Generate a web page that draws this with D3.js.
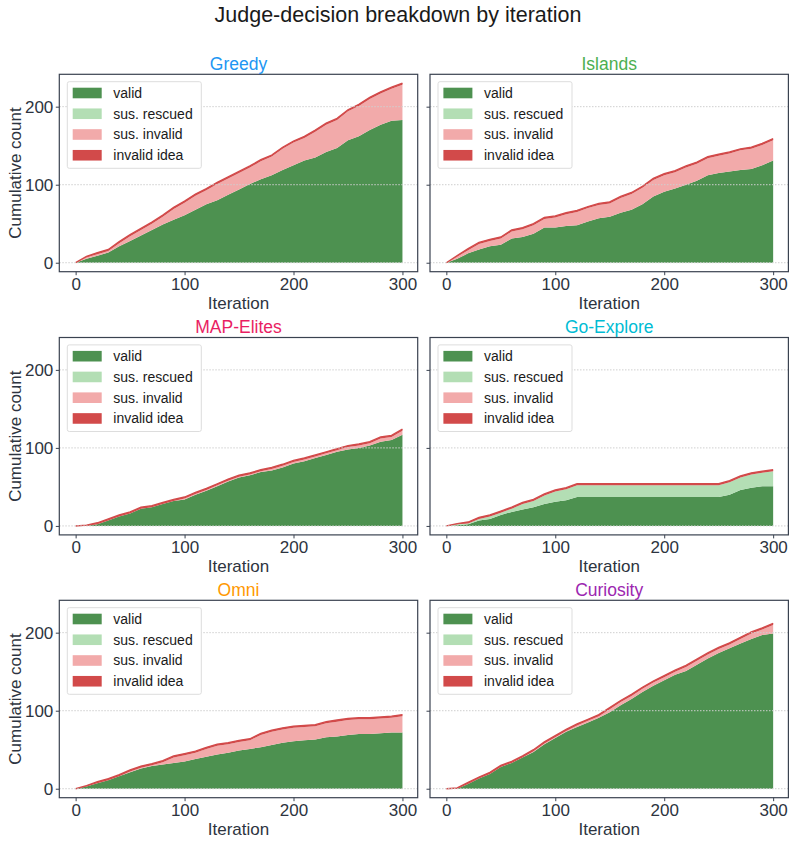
<!DOCTYPE html>
<html lang="en">
<head>
<meta charset="UTF-8">
<script src="https://d3js.org/d3.v7.min.js"></script>
<title>Judge-decision breakdown by iteration</title>
<style>
  body { margin: 0; background: #fff; }
  svg { font-family: 'Liberation Sans', Arial, sans-serif; }
  .tick text { fill: #2d3440; font-size: 17px; }
  .tick line { stroke: #3a4250; stroke-width: 1; }
  .domain { display: none; }
  .grid line { stroke: #cfcfcf; stroke-width: 1; stroke-dasharray: 1.5,1.5; }
  text.axlabel { fill: #2d3440; font-size: 17px; }
  text.legend { fill: #1a1a1a; font-size: 14px; }
</style>
</head>
<body>
<svg width="796" height="841"></svg>
<script>
const width = 796, height = 841;

const iterations = [0,10,20,30,40,50,60,70,80,90,100,110,120,130,140,150,160,170,180,190,200,210,220,230,240,250,260,270,280,290,300];
const keys = ["valid", "rescued", "susInvalid", "invalid"];
const legendLabels = ["valid", "sus. rescued", "sus. invalid", "invalid idea"];
const colors = ["#4d9150", "#b3deb4", "#f2aaaa", "#d24a4a"];
const yTicks = [0, 100, 200];
const xTicks = [0, 100, 200, 300];

// cumulative counts per iteration
const greedyValid   = [0,5,9,13,21,28,35,42,49,55,61,68,75,80,87,94,101,107,112,119,125,131,135,142,147,157,162,170,177,182,183];
const greedyRescued = [0,0,0,0,0,0,0,0,0,0,0,0,0,0,0,0,0,0,0,0,0,0,0,0,0,0,0,0,0,0,0];
const greedySusInv  = [0,2,2,2,4,6,7,8,10,14,16,18,18,21,21,21,21,23,24,27,29,29,33,35,36,37,39,40,40,41,45];
const greedyInvalid = [0,1,2,2,2,2,2,2,2,2,2,2,2,2,2,2,2,2,2,2,2,2,2,2,2,2,2,2,2,2,2];

const islandsValid   = [0,5,12,17,21,23,31,33,37,45,45,47,48,53,57,59,64,68,75,85,91,95,100,105,112,115,117,119,120,125,131];
const islandsRescued = [0,0,0,0,0,0,0,0,0,0,0,0,0,0,0,0,0,0,0,0,0,0,0,0,0,0,0,0,0,0,0];
const islandsSusInv  = [0,3,4,7,7,8,9,10,11,11,13,15,17,17,17,17,19,20,21,21,21,21,22,22,22,22,23,25,26,26,26];
const islandsInvalid = [0,1,2,2,2,2,2,2,2,2,2,2,2,2,2,2,2,2,2,2,2,2,2,2,2,2,2,2,2,2,2];

const mapValid   = [0,0,2,7,12,16,22,24,28,32,34,40,45,51,57,62,65,69,71,75,80,83,87,91,95,98,100,103,108,110,117];
const mapRescued = [0,0,0,0,0,0,0,0,0,0,0,0,0,0,0,0,0,0,0,0,0,0,0,0,0,0,0,0,0,0,0];
const mapSusInv  = [0,0,0,0,0,0,0,0,0,0,1,1,1,1,1,1,1,1,2,2,2,2,2,2,2,3,3,3,4,4,5];
const mapInvalid = [0,1,2,2,2,2,2,2,2,2,2,2,2,2,2,2,2,2,2,2,2,2,2,2,2,2,2,2,2,2,2];

const goValid   = [0,1,2,7,9,14,18,21,24,28,31,33,37,37,37,37,37,37,37,37,37,37,37,37,37,37,40,46,49,51,51];
const goRescued = [0,1,1,2,3,3,4,7,8,11,13,14,15,15,15,15,15,15,15,15,15,15,15,15,15,15,16,16,17,17,19];
const goSusInv  = [0,0,0,0,0,0,0,0,0,0,0,0,0,0,0,0,0,0,0,0,0,0,0,0,0,0,0,0,0,0,0];
const goInvalid = [0,1,2,2,2,2,2,2,2,2,2,2,2,2,2,2,2,2,2,2,2,2,2,2,2,2,2,2,2,2,2];

const omniValid   = [0,3,7,11,16,21,26,29,31,33,35,38,41,44,46,49,51,53,56,59,61,62,63,66,67,69,70,70,71,72,72];
const omniRescued = [0,0,0,0,0,0,0,0,0,0,0,0,0,0,0,0,0,0,0,0,0,0,0,0,0,0,0,0,0,0,0];
const omniSusInv  = [0,0,0,0,0,1,1,1,3,7,8,8,10,11,11,11,11,16,17,17,17,17,17,18,19,19,19,19,19,19,21];
const omniInvalid = [0,1,2,2,2,2,2,2,2,2,2,2,2,2,2,2,2,2,2,2,2,2,2,2,2,2,2,2,2,2,2];

const curValid   = [0,0,6,13,19,28,33,40,47,57,65,73,79,85,91,98,107,115,124,132,139,146,151,159,167,174,180,186,192,197,199];
const curRescued = [0,0,0,0,0,0,0,0,0,0,0,0,0,0,0,0,0,0,0,0,0,0,0,0,0,0,0,0,0,0,0];
const curSusInv  = [0,0,0,0,0,0,0,0,1,1,1,1,2,2,2,4,4,4,4,4,4,4,5,5,5,5,5,6,7,7,11];
const curInvalid = [0,1,2,2,2,2,2,2,2,2,2,2,2,2,2,2,2,2,2,2,2,2,2,2,2,2,2,2,2,2,2];

const panels = [
  {name: "Greedy",     color: "#2196f3", s: [greedyValid, greedyRescued, greedySusInv, greedyInvalid]},
  {name: "Islands",    color: "#4caf50", s: [islandsValid, islandsRescued, islandsSusInv, islandsInvalid]},
  {name: "MAP-Elites", color: "#e91e63", s: [mapValid, mapRescued, mapSusInv, mapInvalid]},
  {name: "Go-Explore", color: "#00bcd4", s: [goValid, goRescued, goSusInv, goInvalid]},
  {name: "Omni",       color: "#ff9800", s: [omniValid, omniRescued, omniSusInv, omniInvalid]},
  {name: "Curiosity",  color: "#9c27b0", s: [curValid, curRescued, curSusInv, curInvalid]}
];

const colLeft = [59.3, 430], rowTop = [74.3, 337.5, 600.3];
const w = 358.4, h = 197.4;

const svg = d3.select("svg");
svg.append("text").attr("x", width / 2).attr("y", 22)
   .attr("text-anchor", "middle").style("font-size", "21.5px").style("fill", "#1a1a1a")
   .text("Judge-decision breakdown by iteration");

const x = d3.scaleLinear().domain([-15, 314]).range([0, w]);
const y = d3.scaleLinear().domain([-11.5, 241.5]).range([h, 0]);
const stack = d3.stack().keys(keys);
const area = d3.area().x(d => x(d.data.iter)).y0(d => y(d[0])).y1(d => y(d[1]));

panels.forEach((p, i) => {
  const col = i % 2, row = Math.floor(i / 2);
  const g = svg.append("g").attr("transform", `translate(${colLeft[col]},${rowTop[row]})`);

  const table = iterations.map((it, j) => {
    const r = {iter: it};
    keys.forEach((k, ki) => r[k] = p.s[ki][j]);
    return r;
  });
  const layers = stack(table);

  g.selectAll("path.layer").data(layers).enter().append("path")
    .attr("class", "layer")
    .attr("d", area)
    .attr("fill", (d, k) => colors[k]);

  // thin edge along the top of the stack
  g.append("path")
    .datum(layers[layers.length - 1])
    .attr("d", d3.line().x(d => x(d.data.iter)).y(d => y(d[1])))
    .attr("fill", "none").attr("stroke", colors[3]).attr("stroke-width", 1.4);

  g.append("g").attr("class", "grid")
    .selectAll("line").data(yTicks).enter().append("line")
    .attr("x1", 0).attr("x2", w).attr("y1", d => y(d)).attr("y2", d => y(d));

  g.append("rect").attr("width", w).attr("height", h)
    .attr("fill", "none").attr("stroke", "#3a4250").attr("stroke-width", 1.2);

  g.append("g").attr("transform", `translate(0,${h})`)
    .call(d3.axisBottom(x).tickValues(xTicks).tickSize(3.5).tickPadding(3));
  g.append("g")
    .call(d3.axisLeft(y).tickValues(yTicks).tickSize(3.5).tickPadding(2.5)
      .tickFormat(col === 0 ? d3.format("d") : () => ""));

  g.append("text").attr("class", "axlabel").attr("x", w / 2).attr("y", h + 37)
    .attr("text-anchor", "middle").text("Iteration");
  if (col === 0) {
    g.append("text").attr("class", "axlabel")
      .attr("transform", `translate(${20.7 - colLeft[0]},${h / 2}) rotate(-90)`)
      .attr("text-anchor", "middle").text("Cumulative count");
  }

  g.append("text").attr("x", w / 2).attr("y", -4.5).attr("text-anchor", "middle")
    .style("font-size", "17.5px").style("fill", p.color).text(p.name);

  const lg = g.append("g").attr("transform", "translate(8,7.4)");
  lg.append("rect").attr("width", 134).attr("height", 86.6).attr("rx", 2)
    .attr("fill", "#fff").attr("stroke", "#dddddd");
  legendLabels.forEach((lab, k) => {
    const cy = 11.3 + k * 20.75;
    lg.append("rect").attr("x", 5.4).attr("y", cy - 5.3).attr("width", 29).attr("height", 10.6)
      .attr("fill", colors[k]);
    lg.append("text").attr("class", "legend").attr("x", 46).attr("y", cy)
      .attr("dominant-baseline", "central").text(lab);
  });
});
</script>
</body>
</html>
